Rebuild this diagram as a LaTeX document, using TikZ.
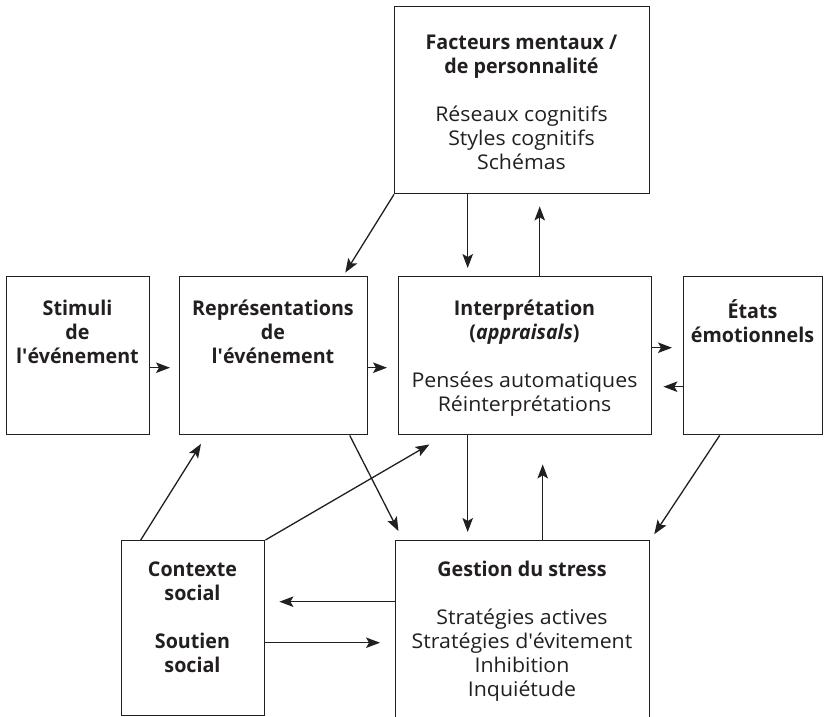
\documentclass[tikz,border=0pt]{standalone}
\usepackage{fontspec}
\setmainfont{Open Sans}[FakeStretch=1.05, BoldFeatures={FakeStretch=0.97}, BoldItalicFeatures={FakeStretch=0.97}]
\usetikzlibrary{arrows.meta,calc}

\tikzset{
  box/.style={draw=ink, line width=1.4pt, rectangle, inner sep=0pt, anchor=north west},
  txt/.style={anchor=north, inner sep=0pt, align=center, text=ink,
              font=\fontsize{20.3}{24}\selectfont},
  head/.style={txt, font=\fontsize{20.3}{24}\selectfont\bfseries},
  arr/.style={draw=ink, line width=1.3pt, -{Stealth[length=14pt,width=10.5pt,inset=3pt]}},
}
\definecolor{ink}{HTML}{231F20}

\begin{document}
\begin{tikzpicture}[x=1pt,y=-1pt]
\useasboundingbox (0,0) rectangle (826,716);
\clip (0,0) rectangle (826,716);

% boxes
\node[box, minimum width=255pt, minimum height=187pt] (fact) at (394,6) {};
\node[box, minimum width=143pt, minimum height=158pt] (stim) at (6,276) {};
\node[box, minimum width=188pt, minimum height=158pt] (repr) at (179,276) {};
\node[box, minimum width=253pt, minimum height=158pt] (interp) at (398,276) {};
\node[box, minimum width=139pt, minimum height=158pt] (etats) at (683,276) {};
\node[box, minimum width=143pt, minimum height=175pt] (ctx) at (121,540) {};
\node[box, minimum width=254pt, minimum height=200pt] (gest) at (395,540) {};

% texts
\node[txt] (factT) at (521.5,35) {\textbf{Facteurs mentaux /}\\\textbf{de personnalité}\\[24pt]Réseaux cognitifs\\Styles cognitifs\\Schémas};
\node[head] (stimT) at (77.5,300) {Stimuli\\de\\l\textquotesingle événement};
\node[head] (reprT) at (273,300) {Représentations\\de\\l\textquotesingle événement};
\node[txt] (interpT) at (524.5,300) {\textbf{Interprétation}\\\textbf{(\textit{appraisals})}\\[24pt]Pensées automatiques\\Réinterprétations};
\node[head] (etatsT) at (752.5,299) {États\\émotionnels};
\node[head] (ctxT) at (192.5,562) {Contexte\\social\\[24pt]Soutien\\social};
\node[txt] (gestT) at (522,561) {\textbf{Gestion du stress}\\[24pt]Stratégies actives\\Stratégies d\textquotesingle évitement\\Inhibition\\Inquiétude};

% horizontal links
\draw[arr, shorten >=9pt] ([yshift=-12pt]stim.east) -- ([yshift=-12pt]repr.west);
\draw[arr, shorten >=11pt] ([yshift=-12pt]repr.east) -- ([yshift=-12pt]interp.west);
\draw[arr, shorten >=11pt] ([yshift=8pt]interp.east) -- ([yshift=8pt]etats.west);
\draw[arr, shorten >=11pt] ([yshift=-31pt]etats.west) -- ([yshift=-31pt]interp.east);
\draw[arr, shorten >=14pt] ([yshift=39pt]gest.west) -- ([yshift=26.5pt]ctx.east);
\draw[arr, shorten >=15pt] ([yshift=-14.5pt]ctx.east) -- ([yshift=-2pt]gest.west);

% vertical links
\draw[arr, shorten >=4pt] (fact.south west) -- ($(repr.north)+(69.5,0)$);
\draw[arr, shorten >=8pt] ($(fact.south)+(-54.5,0)$) -- ($(interp.north)+(-57.5,0)$);
\draw[arr, shorten >=12pt] ($(interp.north)+(14.5,0)$) -- ($(fact.south)+(17.5,0)$);
\draw[arr, shorten >=8pt] ($(interp.south)+(-57.5,0)$) -- ($(gest.north)+(-55,0)$);
\draw[arr, shorten >=29pt] ($(gest.north)+(20,0)$) -- ($(interp.south)+(17.5,0)$);

% diagonal links
\draw[arr, shorten >=10pt] ($(repr.south)+(76,0)$) -- ($(gest.north west)+(8,0)$);
\draw[arr, shorten >=7pt] ($(etats.south)+(-33.5,0)$) -- (gest.north east);
\draw[arr, shorten >=10pt] ($(ctx.north)+(-52.5,0)$) -- ($(repr.south)+(-67.4,0)$);
\draw[arr, shorten >=18pt] (ctx.north east) -- ($(interp.south west)+(47,0)$);
\end{tikzpicture}
\end{document}
